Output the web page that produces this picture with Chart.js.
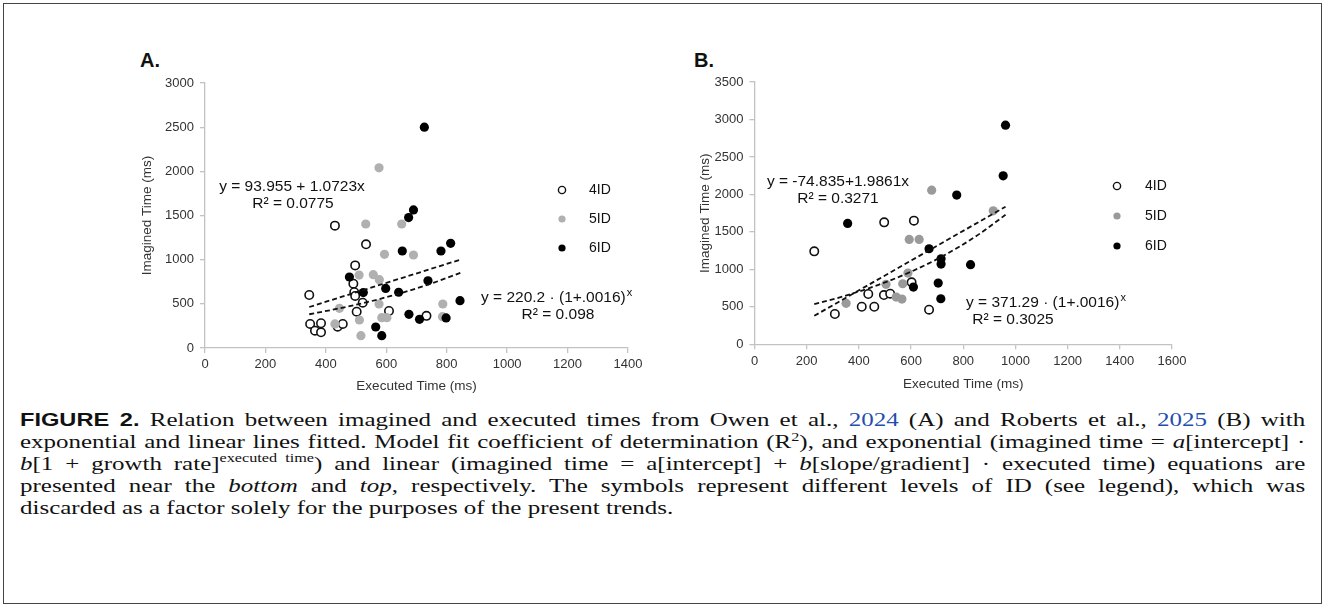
<!DOCTYPE html>
<html>
<head>
<meta charset="utf-8">
<script src="https://cdn.jsdelivr.net/npm/chart.js@4.4.1/dist/chart.umd.min.js"></script>
<style>
  html, body { margin: 0; padding: 0; background: #fff; }
  body { width: 1326px; height: 608px; position: relative; overflow: hidden; font-family: "Liberation Sans", Arial, sans-serif; }
  .frame { position: absolute; left: 3px; top: 3px; width: 1319px; height: 601px; border: 1px solid #444; box-sizing: border-box; }
  .panel { position: absolute; top: 45px; }
  .tag { position: absolute; font: bold 20px "Liberation Sans", Arial, sans-serif; color: #111; }
  .caption { position: absolute; left: 20px; width: 952px; top: 409px; transform: scaleX(1.35); transform-origin: 0 0;
             font-family: "Liberation Serif", "Times New Roman", serif; font-size: 18.5px; line-height: 22px; color: #111; }
  .caption div { text-align: justify; text-align-last: justify; }
  .caption div.last { text-align-last: left; }
  .caption b { font-family: "Liberation Sans", Arial, sans-serif; font-size: 17.5px; }
  .caption a { color: #1f4fb0; text-decoration: none; }
  .caption sup { font-size: 12px; line-height: 0; }
  .caption .sup2 { display: inline-block; font-size: 12px; line-height: 0; vertical-align: 8px; white-space: nowrap; }
</style>
</head>
<body>
<div class="frame"></div>
<div class="tag" style="left:140px; top:49px;">A.</div>
<div class="tag" style="left:694px; top:49px;">B.</div>
<canvas id="chartA" class="panel" width="560" height="360" style="left:120px;"></canvas>
<canvas id="chartB" class="panel" width="560" height="360" style="left:680px;"></canvas>

<div class="caption">
  <div><b>FIGURE 2.</b> Relation between imagined and executed times from Owen et al., <a>2024</a> (A) and Roberts et al., <a>2025</a> (B) with</div>
  <div>exponential and linear lines fitted. Model fit coefficient of determination (R<sup>2</sup>), and exponential (imagined time = <i>a</i>[intercept] &middot;</div>
  <div><i>b</i>[1 + growth rate]<span class="sup2">executed&nbsp;&nbsp;time</span>) and linear (imagined time = a[intercept] + <i>b</i>[slope/gradient] &middot; executed time) equations are</div>
  <div>presented near the <i>bottom</i> and <i>top</i>, respectively. The symbols represent different levels of ID (see legend), which was</div>
  <div class="last">discarded as a factor solely for the purposes of the present trends.</div>
</div>

<script>
// Panel A (Owen et al., 2024) – executed vs imagined time, ms
const a4x = [430, 533, 497, 491, 494, 497, 522, 345, 502, 609, 733, 348, 364, 384, 384, 439, 456];
const a4y = [1385, 1174, 935, 728, 631, 589, 513, 600, 411, 419, 364, 272, 196, 280, 178, 241, 272];
const a5x = [576, 532, 651, 594, 690, 510, 557, 577, 576, 445, 516, 511, 585, 602, 787, 786, 430];
const a5y = [2040, 1404, 1404, 1061, 1053, 826, 830, 774, 498, 449, 140, 317, 343, 343, 498, 355, 272];
const a6x = [726, 690, 674, 653, 781, 813, 478, 598, 738, 524, 641, 675, 710, 798, 844, 565, 585];
const a6y = [2500, 1563, 1476, 1098, 1098, 1185, 804, 674, 760, 627, 631, 381, 325, 340, 536, 238, 139];

// fitted lines A
const aLinX = [345, 845];
const aLinY = [464, 1000];
const aExpX = [345, 445, 545, 645, 745, 845];
const aExpY = [382, 449, 526, 618, 725, 850];

// Panel B (Roberts et al., 2025)
const b4x = [229, 308, 411, 436, 459, 497, 496, 520, 611, 602, 669];
const b4y = [1240, 404, 501, 671, 501, 1627, 657, 675, 1650, 827, 462];
const b5x = [351, 504, 543, 565, 568, 588, 593, 631, 679, 915];
const b5y = [547, 800, 630, 604, 808, 950, 1400, 1400, 2057, 1781];
const b6x = [357, 609, 669, 704, 714, 715, 715, 775, 828, 953, 962];
const b6y = [1613, 764, 1275, 817, 608, 1140, 1071, 1991, 1062, 2248, 2924];

// fitted lines B
const bLinX = [229, 962];
const bLinY = [380, 1836];
const bExpX = [229, 350, 475, 600, 725, 850, 962];
const bExpY = [535, 650, 793, 969, 1183, 1445, 1728];

// ticks
const xTicksA = [0, 200, 400, 600, 800, 1000, 1200, 1400];
const yTicksA = [0, 500, 1000, 1500, 2000, 2500, 3000];
const xTicksB = [0, 200, 400, 600, 800, 1000, 1200, 1400, 1600];
const yTicksB = [0, 500, 1000, 1500, 2000, 2500, 3000, 3500];

const seriesNames = ['4ID', '5ID', '6ID'];
const FONT = '"Liberation Sans", Arial, sans-serif';

function pts(xs, ys) {
  return xs.map((x, i) => ({ x: x, y: ys[i] }));
}

function groupSets(xs, ys, gray) {
  const styles = [
    { bg: '#ffffff', bd: '#111111', bw: 1.6, r: 4.2 },
    { bg: gray, bd: gray, bw: 0, r: 4.6 },
    { bg: '#000000', bd: '#000000', bw: 0, r: 4.6 }
  ];
  return seriesNames.map((name, i) => ({
    label: name,
    data: pts(xs[i], ys[i]),
    pointRadius: styles[i].r,
    pointBackgroundColor: styles[i].bg,
    pointBorderColor: styles[i].bd,
    pointBorderWidth: styles[i].bw,
    showLine: false,
    order: 3 - i
  }));
}

function fitSet(xs, ys, curved) {
  return {
    label: 'fit',
    data: pts(xs, ys),
    showLine: true,
    pointRadius: 0,
    borderColor: '#111',
    borderWidth: 1.8,
    borderDash: [5, 3],
    cubicInterpolationMode: curved ? 'monotone' : 'default',
    order: 0
  };
}

const notesPlugin = {
  id: 'notes',
  afterDatasetsDraw(chart, args, opts) {
    const ctx = chart.ctx;
    ctx.save();
    ctx.textBaseline = 'middle';
    (opts.texts || []).forEach(t => {
      ctx.fillStyle = '#111';
      ctx.font = '15.5px ' + FONT;
      ctx.textAlign = t.align || 'center';
      ctx.fillText(t.text, t.x, t.y);
      if (t.sup) {
        const w = ctx.measureText(t.text).width;
        ctx.font = '11px ' + FONT;
        ctx.textAlign = 'left';
        ctx.fillText(t.sup, t.x + w + 1, t.y - 5);
      }
    });
    const lg = opts.legend;
    if (lg) {
      seriesNames.forEach((name, i) => {
        const ds = chart.data.datasets.find(d => d.label === name);
        const y = lg.y0 + i * lg.dy;
        ctx.beginPath();
        ctx.arc(lg.mx, y, 3.6, 0, Math.PI * 2);
        ctx.fillStyle = ds.pointBackgroundColor;
        ctx.fill();
        if (ds.pointBorderWidth > 0) {
          ctx.lineWidth = 1.4;
          ctx.strokeStyle = ds.pointBorderColor;
          ctx.stroke();
        }
        ctx.fillStyle = '#111';
        ctx.font = '14px ' + FONT;
        ctx.textAlign = 'left';
        ctx.fillText(name, lg.tx, y);
      });
    }
    ctx.restore();
  }
};

function scales(xTicks, yTicks, cfg) {
  const axisColor = '#c2c2c2';
  return {
    x: {
      type: 'linear',
      min: xTicks[0],
      max: xTicks[xTicks.length - 1],
      afterBuildTicks: s => { s.ticks = xTicks.map(v => ({ value: v })); },
      afterFit: s => { s.height = cfg.xHeight; },
      grid: { drawOnChartArea: false, drawTicks: true, tickLength: 5, color: axisColor, lineWidth: 1.3 },
      border: { color: axisColor, width: 1.3 },
      ticks: { color: '#333', font: { family: FONT, size: 13 }, padding: 4, maxRotation: 0, autoSkip: false, callback: v => String(v) },
      title: { display: true, text: 'Executed Time (ms)', color: '#333', font: { family: FONT, size: 13.5 }, padding: { top: 0, bottom: cfg.xTitlePad } }
    },
    y: {
      type: 'linear',
      min: yTicks[0],
      max: yTicks[yTicks.length - 1],
      afterBuildTicks: s => { s.ticks = yTicks.map(v => ({ value: v })); },
      afterFit: s => { s.width = cfg.yWidth; },
      grid: { drawOnChartArea: false, drawTicks: true, tickLength: 5, color: axisColor, lineWidth: 1.3 },
      border: { color: axisColor, width: 1.3 },
      ticks: { color: '#333', font: { family: FONT, size: 13 }, padding: 6, autoSkip: false, callback: v => String(v) },
      title: { display: true, text: 'Imagined Time (ms)', color: '#333', font: { family: FONT, size: 13.5 }, padding: { top: cfg.yTitlePad, bottom: 0 } }
    }
  };
}

function makeChart(id, datasets, xTicks, yTicks, cfg, notes) {
  return new Chart(document.getElementById(id), {
    type: 'scatter',
    data: { datasets: datasets },
    options: {
      responsive: false,
      animation: false,
      devicePixelRatio: 1,
      layout: { padding: cfg.padding },
      plugins: {
        legend: { display: false },
        tooltip: { enabled: false },
        notes: notes
      },
      scales: scales(xTicks, yTicks, cfg)
    },
    plugins: [notesPlugin]
  });
}

makeChart('chartA',
  groupSets([a4x, a5x, a6x], [a4y, a5y, a6y], '#b0b0b0').concat([fitSet(aLinX, aLinY, false), fitSet(aExpX, aExpY, true)]),
  xTicksA, yTicksA,
  { padding: { left: 0, top: 38, right: 52, bottom: 0 }, yWidth: 85, xHeight: 57, yTitlePad: 19, xTitlePad: 11 },
  {
    texts: [
      { text: 'y = 93.955 + 1.0723x', x: 172, y: 142 },
      { text: 'R\u00b2 = 0.0775', x: 173, y: 159 },
      { text: 'y = 220.2 \u00b7 (1+.0016)', x: 361, y: 253, align: 'left', sup: 'x' },
      { text: 'R\u00b2 = 0.098', x: 438, y: 270 }
    ],
    legend: { mx: 442, tx: 469, y0: 145, dy: 29 }
  });

makeChart('chartB',
  groupSets([b4x, b5x, b6x], [b4y, b5y, b6y], '#9a9a9a').concat([fitSet(bLinX, bLinY, false), fitSet(bExpX, bExpY, true)]),
  xTicksB, yTicksB,
  { padding: { left: 0, top: 37, right: 68, bottom: 0 }, yWidth: 74.5, xHeight: 60.7, yTitlePad: 17, xTitlePad: 13 },
  {
    texts: [
      { text: 'y = -74.835+1.9861x', x: 158, y: 137 },
      { text: 'R\u00b2 = 0.3271', x: 158, y: 154 },
      { text: 'y = 371.29 \u00b7 (1+.0016)', x: 286, y: 258, align: 'left', sup: 'x' },
      { text: 'R\u00b2 = 0.3025', x: 333, y: 275 }
    ],
    legend: { mx: 437, tx: 465, y0: 141, dy: 30 }
  });
</script>
</body>
</html>
